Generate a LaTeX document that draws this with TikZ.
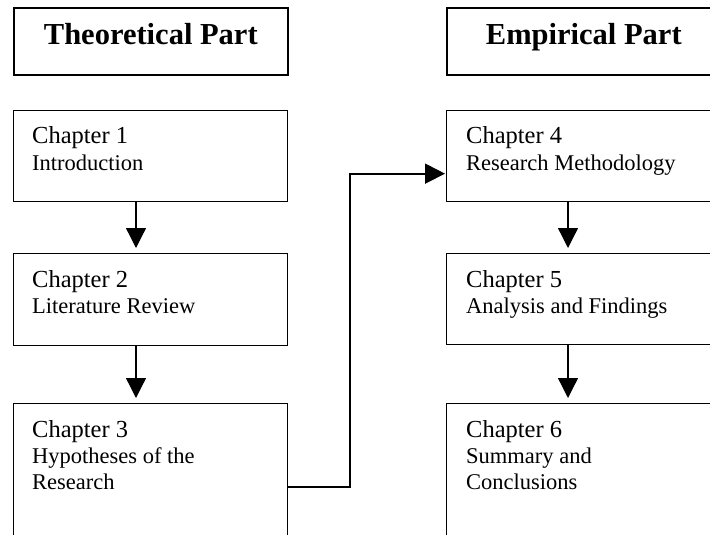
\documentclass[tikz,border=0pt]{standalone}
\usepackage{fontspec}
\setmainfont{Liberation Serif}
\usetikzlibrary{positioning, arrows.meta, calc}

\begin{document}
\begin{tikzpicture}[x=1pt, y=-1pt,
          partbox/.style={draw, line width=1.6pt, minimum width=274pt,
                          minimum height=67pt, anchor=north west, inner sep=0pt},
          chapbox/.style={draw, line width=1.3pt, minimum width=274pt,
                          anchor=north west, inner sep=0pt},
          parttext/.style={font=\fontsize{30.5}{34}\selectfont\bfseries, anchor=base},
          chap/.style={font=\fontsize{24.5}{28}\selectfont, anchor=base west, inner sep=0pt},
          sub/.style={font=\fontsize{22.5}{26}\selectfont, anchor=base west, inner sep=0pt},
          arr/.style={-{Triangle[length=20pt, width=20pt]}, line width=1.3pt}
        ]
        \useasboundingbox (0,0) rectangle (710,535);
        \clip (0,0) rectangle (710,535);

        % headers
        \node[partbox] (theo) at (13,7) {};
        \node[partbox] (emp)  at (446,7) {};
        \node[parttext] (theot) at ([yshift=-38pt]theo.north) {Theoretical Part};
        \node[parttext] (empt)  at ([yshift=-38pt]emp.north) {Empirical Part};

        % theoretical chapters
        \node[chapbox, minimum height=91pt]  (ch1) at (13,110) {};
        \node[chapbox, minimum height=92pt]  (ch2) at (13,253) {};
        \node[chapbox, minimum height=166pt] (ch3) at (13,403) {};
        \node[chap] (ch1t) at ([xshift=19pt, yshift=-33pt]ch1.north west) {Chapter 1};
        \node[sub]  (ch1s) at ([xshift=19pt, yshift=-60pt]ch1.north west) {Introduction};
        \node[chap] (ch2t) at ([xshift=19pt, yshift=-34pt]ch2.north west) {Chapter 2};
        \node[sub]  (ch2s) at ([xshift=19pt, yshift=-60pt]ch2.north west) {Literature Review};
        \node[chap] (ch3t) at ([xshift=19pt, yshift=-34pt]ch3.north west) {Chapter 3};
        \node[sub]  (ch3s) at ([xshift=19pt, yshift=-60pt]ch3.north west) {Hypotheses of the};
        \node[sub]  (ch3r) at ([xshift=19pt, yshift=-86pt]ch3.north west) {Research};

        % empirical chapters
        \node[chapbox, minimum height=91pt]  (ch4) at (446,110) {};
        \node[chapbox, minimum height=91pt]  (ch5) at (446,253) {};
        \node[chapbox, minimum height=166pt] (ch6) at (446,403) {};
        \node[chap] (ch4t) at ([xshift=20pt, yshift=-33pt]ch4.north west) {Chapter 4};
        \node[sub]  (ch4s) at ([xshift=20pt, yshift=-60pt]ch4.north west) {Research Methodology};
        \node[chap] (ch5t) at ([xshift=20pt, yshift=-34pt]ch5.north west) {Chapter 5};
        \node[sub]  (ch5s) at ([xshift=20pt, yshift=-60pt]ch5.north west) {Analysis and Findings};
        \node[chap] (ch6t) at ([xshift=20pt, yshift=-34pt]ch6.north west) {Chapter 6};
        \node[sub]  (ch6s) at ([xshift=20pt, yshift=-60pt]ch6.north west) {Summary and};
        \node[sub]  (ch6r) at ([xshift=20pt, yshift=-86pt]ch6.north west) {Conclusions};

        % connectors
        \draw[arr, shorten >=5pt] ([xshift=123pt]ch1.south west) -- ([xshift=123pt]ch2.north west);
        \draw[arr, shorten >=5pt] ([xshift=123pt]ch2.south west) -- ([xshift=123pt]ch3.north west);
        \draw[arr, shorten >=5pt] ([xshift=122pt]ch4.south west) -- ([xshift=122pt]ch5.north west);
        \draw[arr, shorten >=5pt] ([xshift=122pt]ch5.south west) -- ([xshift=122pt]ch6.north west);
        \coordinate (ch4in) at ([yshift=-17.5pt]ch4.west);
        \draw[arr, line width=1.8pt, shorten >=1pt] (ch3.east) -- ++(62,0) |- (ch4in);
      \end{tikzpicture}
\end{document}
